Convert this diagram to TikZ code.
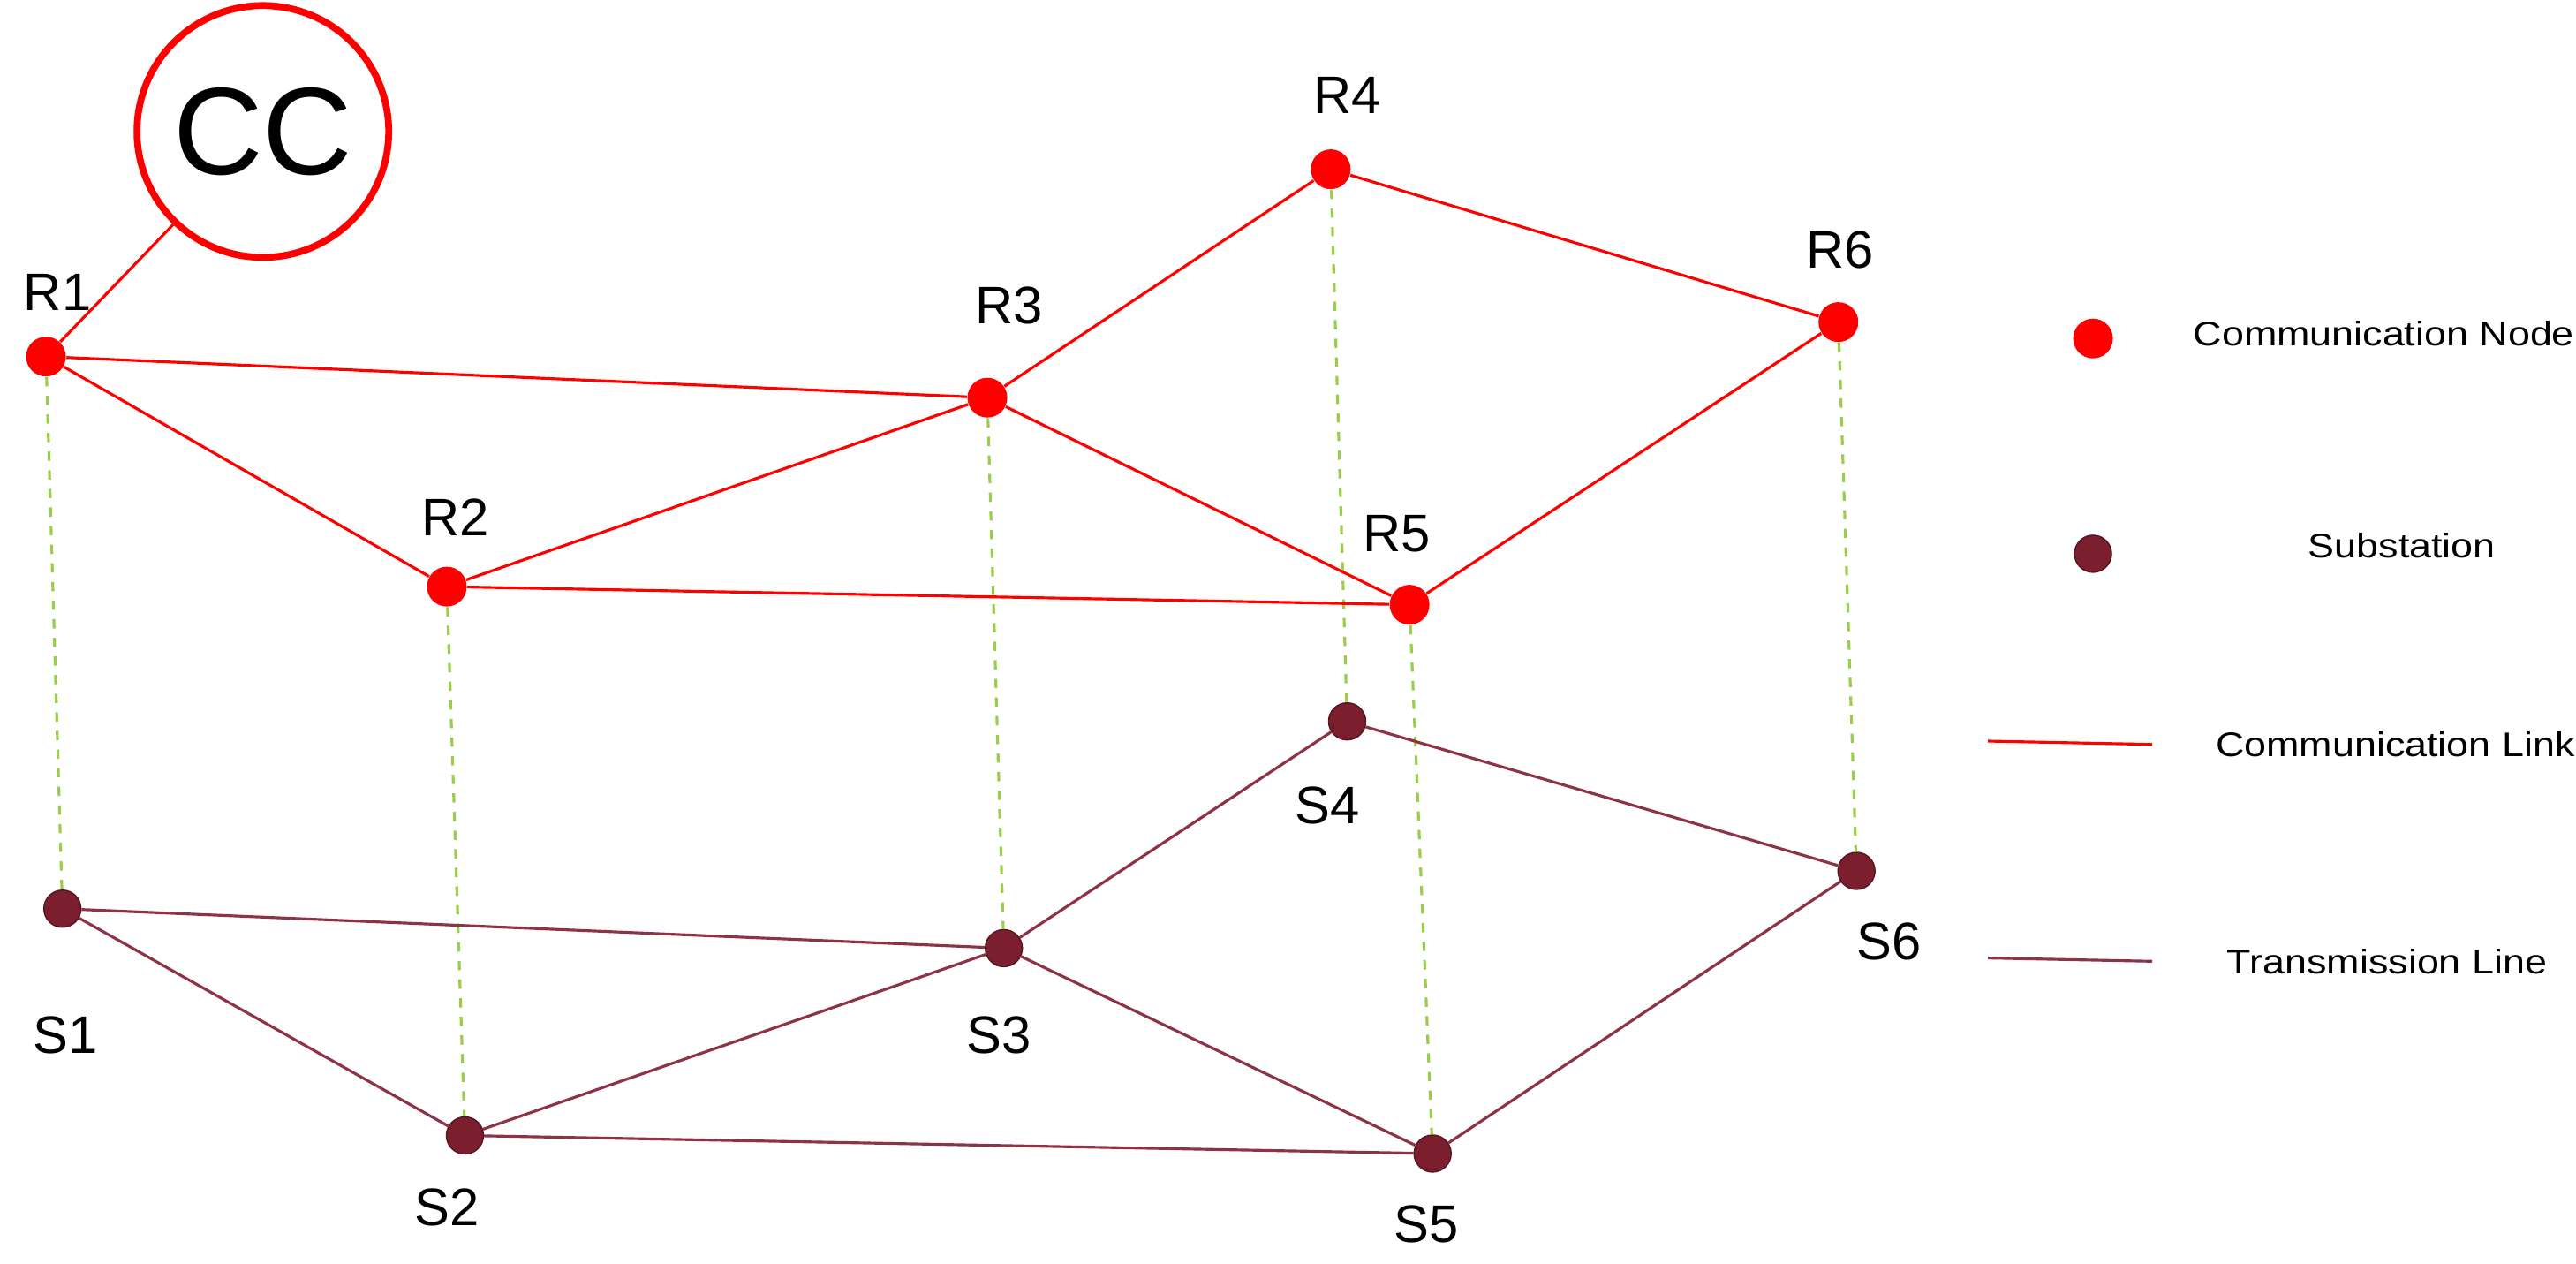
\documentclass[tikz,border=0pt]{standalone}
\usepackage{fontspec}
\setmainfont{Liberation Sans}
\usetikzlibrary{positioning}
\definecolor{subred}{HTML}{7B1E2E}
\definecolor{tline}{HTML}{8E3345}
\definecolor{vgreen}{HTML}{9ACD4A}
\begin{document}
\begin{tikzpicture}[x=0.0186cm,y=-0.0186cm,
  comm/.style={circle,fill=red,inner sep=0pt,minimum size=0.45cm},
  sub/.style={circle,fill=subred,draw=subred!70!black,inner sep=0pt,minimum size=0.42cm},
  clink/.style={red,line width=0.9pt},
  tlink/.style={tline,line width=0.9pt},
  vlink/.style={vgreen,dashed,line width=0.9pt},
  lbl/.style={font=\fontsize{17}{20}\selectfont},
  leg/.style={font=\fontsize{11}{13}\selectfont,xscale=1.16,anchor=center}]
\useasboundingbox (0,0) rectangle (1568,769);
% communication nodes
\node[comm] (R1) at (28,217) {};
\node[comm] (R2) at (272,357) {};
\node[comm] (R3) at (601,242) {};
\node[comm] (R4) at (810,103) {};
\node[comm] (R5) at (858,368) {};
\node[comm] (R6) at (1119,196) {};
% substations
\node[sub] (S1) at (38,553) {};
\node[sub] (S2) at (283,691) {};
\node[sub] (S3) at (611,577) {};
\node[sub] (S4) at (820,439) {};
\node[sub] (S5) at (872,702) {};
\node[sub] (S6) at (1130,530) {};
% control centre
\node[circle,draw=red,line width=2.2pt,minimum size=2.85cm,inner sep=0pt,
  font=\fontsize{40}{44}\selectfont] (CC) at (160,80) {CC};
% labels
\node[lbl] at (35,178) {R1};
\node[lbl] at (277,315) {R2};
\node[lbl] at (614,186) {R3};
\node[lbl] at (820,58) {R4};
\node[lbl] at (850,325) {R5};
\node[lbl] at (1120,152) {R6};
\node[lbl] at (40,630) {S1};
\node[lbl] at (272,735) {S2};
\node[lbl] at (608,630) {S3};
\node[lbl] at (808,490) {S4};
\node[lbl] at (868,745) {S5};
\node[lbl] at (1150,573) {S6};
% links
\draw[vlink] (R1) -- (S1) (R2) -- (S2) (R3) -- (S3) (R4) -- (S4) (R5) -- (S5) (R6) -- (S6);
\draw[clink] (CC) -- (R1) (R1) -- (R3) (R1) -- (R2) (R2) -- (R3) (R2) -- (R5)
  (R3) -- (R4) (R3) -- (R5) (R4) -- (R6) (R5) -- (R6);
\draw[tlink] (S1) -- (S3) (S1) -- (S2) (S2) -- (S3) (S2) -- (S5) (S3) -- (S4)
  (S3) -- (S5) (S4) -- (S6) (S5) -- (S6);
% legend
\node[comm] (lc) at (1274,206) {};
\node[leg] at (1451,203) {Communication Node};
\node[sub] (ls) at (1274,337) {};
\node[leg] at (1462,332) {Substation};
\coordinate (la) at (1210,451);
\coordinate (lb) at (1310,453);
\draw[clink] (la) -- (lb);
\node[leg] at (1458,453) {Communication Link};
\coordinate (ta) at (1210,583);
\coordinate (tb) at (1310,585);
\draw[tlink] (ta) -- (tb);
\node[leg] at (1453,585) {Transmission Line};
\end{tikzpicture}
\end{document}
